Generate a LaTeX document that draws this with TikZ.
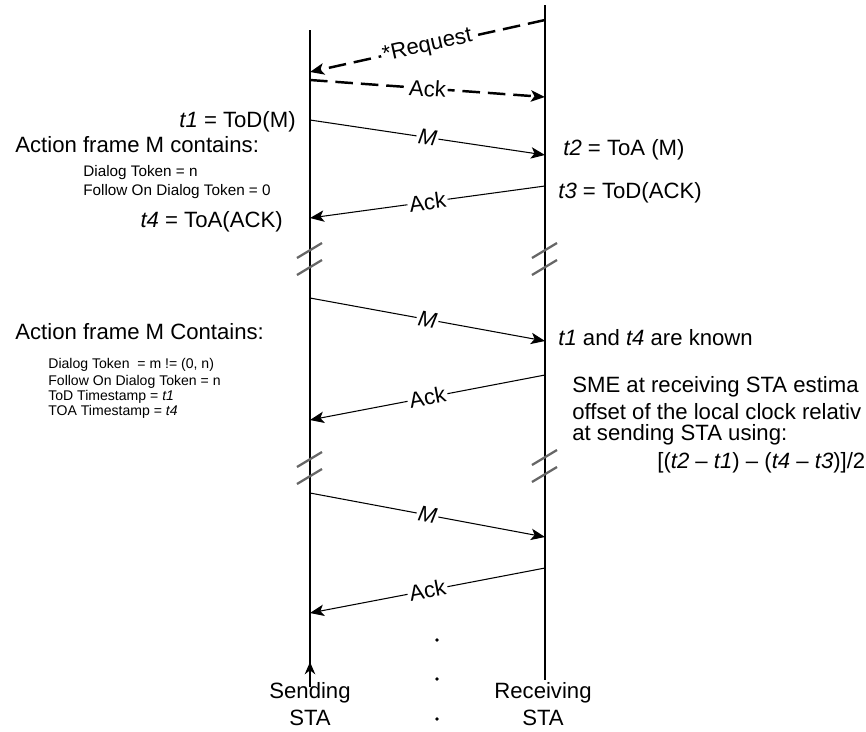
\documentclass[tikz,border=0pt]{standalone}
\usepackage{fontspec}
\setmainfont{Liberation Sans}
\usetikzlibrary{arrows.meta}

\begin{document}
\begin{tikzpicture}[x=0.02cm,y=-0.02cm,
  >={Stealth[length=8pt,width=6.5pt,inset=2pt]},
  lifeline/.style={black,line width=0.9pt},
  msg/.style={->,line width=0.6pt},
  dmsg/.style={->,line width=1.4pt,dash pattern=on 10pt off 4.5pt},
  lbl/.style={midway,sloped,fill=white,inner sep=1pt,font=\fontsize{12.6}{15}\selectfont},
  brk/.style={black!60,line width=1.3pt},
  txt/.style={inner sep=0pt,font=\fontsize{12.6}{15}\selectfont},
  sml/.style={inner sep=0pt,anchor=west,font=\fontsize{8.7}{11}\selectfont},
  smlb/.style={inner sep=0pt,anchor=west,font=\fontsize{8}{10}\selectfont}]
  \useasboundingbox (0,0) rectangle (866,731);
  \clip (0,0) rectangle (866,731);
  % Lifelines
  \coordinate (stop) at (310,30);
  \coordinate (sbot) at (310,687);
  \coordinate (stip) at (310,662);
  \coordinate (rtop) at (545,5);
  \coordinate (rbot) at (545,680);
  \draw[lifeline] (stop) -- (sbot);
  \draw[lifeline] (rtop) -- (rbot);
  \draw[lifeline,->,>={Stealth[length=7pt,width=6pt]}] (sbot) -- (stip);
  % Breaks
  \foreach \x/\y in {310/258,545/258,310/467,545/465}{
    \draw[brk] (\x-13,\y) -- ++(25,-15);
    \draw[brk] (\x-13,\y+17) -- ++(25,-15);
  }
  % Request / Ack
  \coordinate (rq1) at (545,20);
  \coordinate (rq2) at (310,72);
  \coordinate (ak1) at (310,80);
  \coordinate (ak2) at (545,97);
  \draw[dmsg] (rq1) -- node[lbl] {*Request} (rq2);
  \draw[dmsg] (ak1) -- node[lbl] {Ack} (ak2);
  % First exchange
  \coordinate (m1a) at (310,120);
  \coordinate (m1b) at (545,155);
  \coordinate (a1a) at (545,186);
  \coordinate (a1b) at (310,218);
  \draw[msg] (m1a) -- node[lbl] {\textit{M}} (m1b);
  \draw[msg] (a1a) -- node[lbl] {Ack} (a1b);
  % Second exchange
  \coordinate (m2a) at (310,298);
  \coordinate (m2b) at (545,341);
  \coordinate (a2a) at (545,375);
  \coordinate (a2b) at (310,420);
  \draw[msg] (m2a) -- node[lbl] {\textit{M}} (m2b);
  \draw[msg] (a2a) -- node[lbl] {Ack} (a2b);
  % Third exchange
  \coordinate (m3a) at (310,493);
  \coordinate (m3b) at (545,537);
  \coordinate (a3a) at (545,568);
  \coordinate (a3b) at (310,613);
  \draw[msg] (m3a) -- node[lbl] {\textit{M}} (m3b);
  \draw[msg] (a3a) -- node[lbl] {Ack} (a3b);
  % Timestamps
  \node[txt,anchor=east] (tod1) at (296,122) {\textit{t1} = ToD(M)};
  \node[txt,anchor=west] (toa2) at (563,150) {\textit{t2} = ToA (M)};
  \node[txt,anchor=west] (tod3) at (558,193) {\textit{t3} = ToD(ACK)};
  \node[txt,anchor=east] (toa4) at (283,222) {\textit{t4} = ToA(ACK)};
  % Frame contents
  \node[txt,anchor=west] (frame1) at (15,145) {Action frame M contains:};
  \node[sml] (dtok1) at (83,173) {Dialog Token = n};
  \node[sml] (ftok1) at (83,192) {Follow On Dialog Token = 0};
  \node[txt,anchor=west] (frame2) at (15,332) {Action frame M Contains:};
  \node[smlb] (dtok2) at (48,365) {Dialog Token \ = m != (0, n)};
  \node[smlb] (ftok2) at (48,382) {Follow On Dialog Token = n};
  \node[smlb] (tods) at (48,397) {ToD Timestamp = \textit{t1}};
  \node[smlb] (toas) at (48,412) {TOA Timestamp = \textit{t4}};
  % Receiver notes
  \node[txt,anchor=west] (known) at (558,338) {\textit{t1} and \textit{t4} are known};
  \node[txt,anchor=west] (sme1) at (572,387) {SME at receiving STA estima};
  \node[txt,anchor=west] (sme2) at (572,412) {offset of the local clock relativ};
  \node[txt,anchor=west] (sme3) at (572,435) {at sending STA using:};
  \node[txt,anchor=west] (offs) at (657,463) {[(\textit{t2} -- \textit{t1}) -- (\textit{t4} -- \textit{t3})]/2};
  % Continuation dots
  \foreach \y in {640,679,719}
    \fill (437,\y) circle[radius=1.1pt];
  % Stations
  \node[txt] (send1) at (310,693) {Sending};
  \node[txt] (send2) at (310,718) {STA};
  \node[txt] (recv1) at (543,693) {Receiving};
  \node[txt] (recv2) at (543,718) {STA};
\end{tikzpicture}
\end{document}
